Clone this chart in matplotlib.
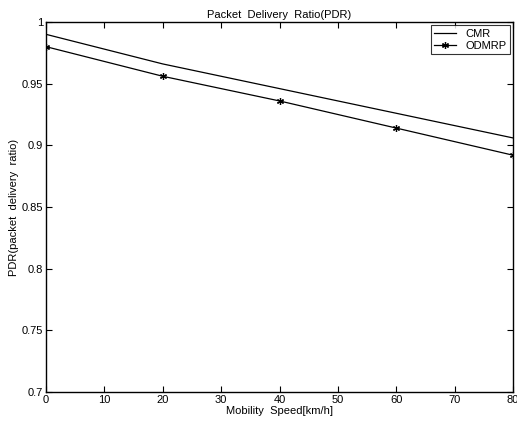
import matplotlib
matplotlib.use("Agg")
import matplotlib.pyplot as plt
import numpy as np

plt.rcParams['font.family'] = ['Liberation Sans', 'DejaVu Sans']

speed = [0, 20, 40, 60, 80]
cmr = [0.990, 0.966, 0.946, 0.926, 0.906]
odmrp = [0.980, 0.956, 0.936, 0.914, 0.892]

fig = plt.figure(figsize=(5.17, 4.23), dpi=100)
ax = fig.add_axes([46/517, 1-392/423, (513-46)/517, (392-22)/423])

ax.plot(speed, cmr, color='black', lw=0.9, label='CMR')
ax.plot(speed, odmrp, color='black', lw=0.9, marker=(6, 2, 0), ms=5, mew=0.9, label='ODMRP')

ax.set_xlim(0, 80)
ax.set_ylim(0.7, 1.0)
ax.set_xticks(np.arange(0, 81, 10))
ax.set_yticks([0.7, 0.75, 0.8, 0.85, 0.9, 0.95, 1.0])
ax.set_yticklabels(['0.7', '0.75', '0.8', '0.85', '0.9', '0.95', '1'])
ax.tick_params(direction='in', labelsize=8, length=4, top=True, right=True, pad=2)
for s in ax.spines.values():
    s.set_linewidth(1.0)

ax.set_title('Packet  Delivery  Ratio(PDR)', fontsize=8, pad=3)
ax.set_xlabel('Mobility  Speed[km/h]', fontsize=8, labelpad=1)
ax.set_ylabel('PDR(packet  delivery  ratio)', fontsize=8, labelpad=2)

leg = ax.legend(loc='upper right', fontsize=8, frameon=True, fancybox=False,
                edgecolor='black', borderpad=0.3, handlelength=2.0, labelspacing=0.2,
                borderaxespad=0.3)
leg.get_frame().set_linewidth(0.8)

fig.savefig('out.png', dpi=100)
